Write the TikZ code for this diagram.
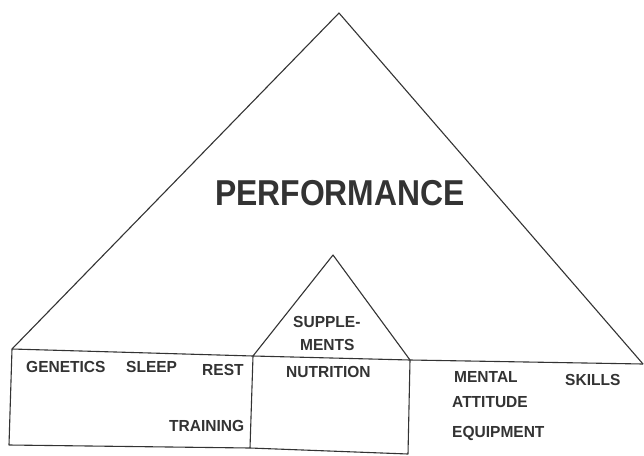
\documentclass[tikz,border=0pt]{standalone}
\usepackage{fontspec}
\setmainfont{Liberation Sans}
\usepackage{tikz}
\definecolor{ink}{HTML}{333333}
\tikzset{
  edge/.style={draw=ink,line width=1.1pt,line join=round},
  lbl/.style={anchor=base west,inner sep=0pt,text=ink,font=\fontsize{16}{16}\selectfont\bfseries,xscale=0.97},
  title/.style={anchor=base west,inner sep=0pt,text=ink,font=\fontsize{36}{36}\selectfont\bfseries,xscale=0.885}
}

\begin{document}
\begin{tikzpicture}[x=1pt,y=-1pt]
\useasboundingbox[fill=white] (0,0) rectangle (644,455);
% corners of the pyramid and the boxes
\coordinate (apex) at (339,13);
\coordinate (baseL) at (12,349);
\coordinate (baseR) at (643,364);
\coordinate (divTop) at (253,356);
\coordinate (midTop) at (410,360);
\coordinate (cornerBL) at (9,445);
\coordinate (divBot) at (250,448);
\coordinate (midBot) at (408,454);
\coordinate (supApex) at (333,255);
% big triangle
\draw[edge] (baseL) -- (apex) -- (baseR);
% base line
\draw[edge] (baseL) -- (divTop) -- (midTop) -- (baseR);
% small triangle
\draw[edge] (divTop) -- (supApex) -- (midTop);
% boxes
\draw[edge] (baseL) -- (cornerBL) -- (divBot) -- (midBot) -- (midTop);
\draw[edge] (divTop) -- (divBot);
% labels
\node[title] (perf) at (215,205) {PERFORMANCE};
\node[lbl] (supp) at (293,327) {SUPPLE-};
\node[lbl] (ments) at (300,350) {MENTS};
\node[lbl] (gen) at (26,372) {GENETICS};
\node[lbl] (sleep) at (126,372) {SLEEP};
\node[lbl] (rest) at (202,375) {REST};
\node[lbl] (train) at (169,431) {TRAINING};
\node[lbl] (nutr) at (286,377) {NUTRITION};
\node[lbl] (mental) at (454,382) {MENTAL};
\node[lbl] (skills) at (565,385) {SKILLS};
\node[lbl] (att) at (452,407) {ATTITUDE};
\node[lbl] (equip) at (452,437) {EQUIPMENT};
\end{tikzpicture}
\end{document}
